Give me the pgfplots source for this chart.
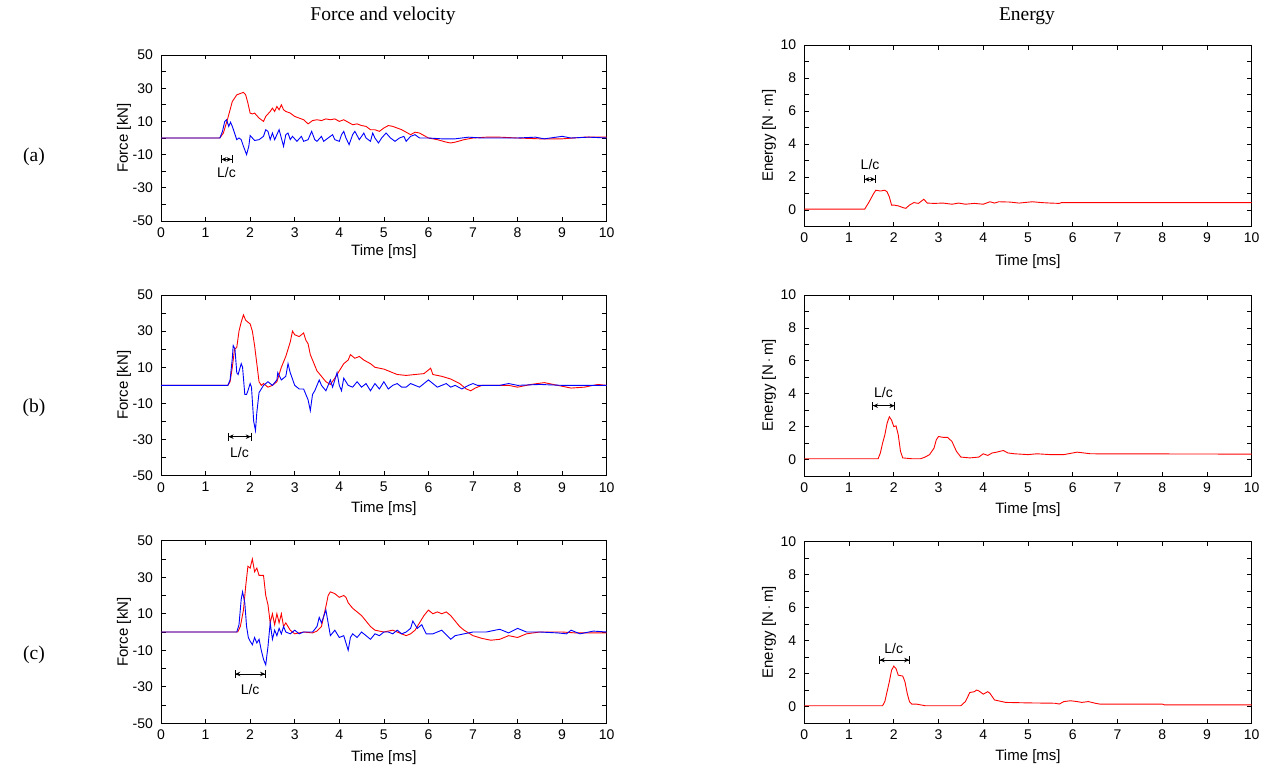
\documentclass[border=0pt]{standalone}
\usepackage{pgfplots}
\pgfplotsset{compat=1.18}
\usepackage{fontspec}
\setmainfont{Liberation Serif}
\setsansfont{Liberation Sans}
\usetikzlibrary{arrows.meta}

\pgfplotsset{
  base/.style={
    scale only axis,
    xmin=0, xmax=10,
    xtick={0,1,...,10},
    xticklabels={0,1,2,3,4,5,6,7,8,9,10},
    tick align=inside,
    tick pos=both,
    major tick length=4.5pt,
    minor tick length=4.5pt,
    every tick/.style={black, line width=0.7pt},
    axis line style={black, line width=0.8pt},
    tick label style={font=\sffamily\fontsize{14}{14}\selectfont, text=black},
    label style={font=\sffamily\fontsize{15}{15}\selectfont},
    xticklabel style={yshift=-3pt},
    yticklabel style={xshift=-4.5pt},
    xlabel={Time [ms]},
    every axis plot/.append style={line width=0.9pt, no marks},
  },
  force/.style={base,
    width=445.7pt,
    ymin=-50, ymax=50,
    ytick={-50,-30,-10,10,30,50},
    yticklabels={-50,-30,-10,10,30,50},
    minor ytick={-40,-20,0,20,40},
    ylabel={Force [kN]},
    ylabel style={at={(axis description cs:-0.083,0.5)}, anchor=center, rotate=0},
  },
  energy/.style={base,
    width=447.4pt,
    ymin=-1, ymax=10,
    ytick={0,2,4,6,8,10},
    yticklabels={0,2,4,6,8,10},
    minor ytick={1,3,5,7,9},
    ylabel={Energy [N\,$\cdot$\,m]},
    ylabel style={at={(axis description cs:-0.079,0.5)}, anchor=center, rotate=0},
  },
}
\tikzset{lc/.style={{Bar[width=8pt]Stealth[length=5pt,width=4.5pt]}-{Stealth[length=5pt,width=4.5pt]Bar[width=8pt]}, line width=0.7pt, black},
         lct/.style={font=\sffamily\fontsize{14}{14}\selectfont}}

\begin{document}
\begin{tikzpicture}
\useasboundingbox (0pt,0pt) rectangle (1264pt,-773pt);

\node[font=\fontsize{19.5}{19.5}\selectfont] at (383pt,-16pt) {Force and velocity};
\node[font=\fontsize{19.5}{19.5}\selectfont] at (1027pt,-16pt) {Energy};
\node[font=\fontsize{19.5}{19.5}\selectfont] at (34pt,-157pt) {(a)};
\node[font=\fontsize{19.5}{19.5}\selectfont] at (34pt,-408pt) {(b)};
\node[font=\fontsize{19.5}{19.5}\selectfont] at (34pt,-655pt) {(c)};

% ---------- (a) force ----------
\begin{axis}[force, at={(161pt,-221pt)}, anchor=south west, height=166pt,
  xlabel style={at={(axis description cs:0.5,-0.187)}, anchor=center}]
\addplot[red] coordinates {
(0,0) (1.32,0) (1.4,3) (1.5,12) (1.6,22) (1.7,26) (1.8,27) (1.85,27.5) (1.9,26) (1.95,21)
(2.0,15) (2.05,14.5) (2.1,15) (2.2,12) (2.3,10) (2.35,13) (2.45,16) (2.5,18) (2.55,16) (2.6,19)
(2.65,17) (2.7,20) (2.75,17) (2.8,16) (2.9,15) (3.0,13) (3.1,12) (3.2,11) (3.3,8.5) (3.4,10.5)
(3.5,11) (3.6,10.5) (3.7,11.5) (3.8,11) (3.9,11.5) (4.0,10) (4.1,11) (4.2,9.5) (4.3,8) (4.4,8.5)
(4.5,7.5) (4.6,7) (4.7,5) (4.8,5) (4.9,4) (5.0,6) (5.1,7.5) (5.2,7) (5.3,6) (5.4,5)
(5.5,3.5) (5.6,2) (5.7,3.5) (5.8,3) (5.9,1.5) (6.0,0) (6.2,-1) (6.4,-2.5) (6.5,-3) (6.6,-2.5)
(6.8,-1) (7.0,0) (7.3,0.5) (7.6,0.5) (8.0,0) (8.5,-0.5) (9.0,-0.5) (9.5,0.5) (10,0.5)
};
\addplot[blue] coordinates {
(0,0) (1.32,0) (1.38,4) (1.43,10) (1.47,11) (1.52,7) (1.56,9.5) (1.6,7) (1.65,3) (1.7,-1)
(1.75,0) (1.8,-1) (1.85,-5) (1.92,-10) (1.97,-5) (2.0,1.5) (2.05,0) (2.1,-1.5) (2.2,-1) (2.3,1)
(2.35,5) (2.4,4) (2.45,-1) (2.5,3) (2.55,-1) (2.65,5) (2.7,0) (2.75,-5) (2.8,2) (2.85,3)
(2.9,-1) (2.95,1) (3.05,-2) (3.15,1) (3.2,-2) (3.3,-1) (3.38,4) (3.45,-1) (3.5,-2) (3.6,1)
(3.65,-2) (3.75,0) (3.85,2) (3.9,-1) (4.0,-2) (4.05,2) (4.1,4) (4.15,0) (4.22,-4) (4.3,2)
(4.35,4) (4.45,-1) (4.55,3) (4.6,0) (4.7,-2) (4.75,3) (4.8,0) (4.88,-3) (4.95,0) (5.05,3)
(5.15,0) (5.25,-2) (5.35,0) (5.45,1) (5.5,-2) (5.6,1) (5.7,2) (5.8,0) (6.0,0) (6.3,-0.5)
(6.6,-0.5) (6.9,0.5) (7.2,0) (7.5,0) (8.0,0) (8.4,0.5) (8.6,-0.5) (9.0,1) (9.2,0) (9.6,0.5) (10,0)
};
\draw[lc] (axis cs:1.34,-12.9) -- (axis cs:1.60,-12.9);
\node[lct] at (axis cs:1.47,-21) {L/c};
\end{axis}

% ---------- (b) force ----------
\begin{axis}[force, at={(161pt,-475.7pt)}, anchor=south west, height=180.7pt,
  xlabel style={at={(axis description cs:0.5,-0.183)}, anchor=center}]
\addplot[red] coordinates {
(0,0) (1.5,0) (1.55,2) (1.6,10) (1.65,20) (1.7,21) (1.75,30) (1.8,35) (1.85,39) (1.9,36)
(1.95,35) (2.0,34) (2.05,30) (2.1,22) (2.15,12) (2.2,2) (2.25,0) (2.3,1) (2.4,-1) (2.5,0)
(2.6,2) (2.7,10) (2.8,16) (2.9,24) (2.95,30) (3.0,28) (3.1,27) (3.2,29) (3.25,25) (3.3,23)
(3.35,17) (3.4,14) (3.5,8) (3.6,5) (3.7,2) (3.8,0.5) (3.9,4) (4.0,8) (4.1,12) (4.2,14)
(4.25,17) (4.35,15) (4.45,16) (4.55,14) (4.7,12) (4.8,10) (5.0,9) (5.1,8) (5.3,6) (5.5,5.5)
(5.7,6) (5.9,6.5) (6.05,9.5) (6.1,6) (6.3,5) (6.5,3.5) (6.7,1) (6.85,-2) (6.95,-3) (7.05,-1.5)
(7.2,0) (7.5,0) (7.8,0) (8.0,-1) (8.3,0.5) (8.6,1.5) (8.9,0) (9.2,-1.5) (9.5,-1) (9.8,0.5) (10,0)
};
\addplot[blue] coordinates {
(0,0) (1.5,0) (1.55,3) (1.6,15) (1.62,22) (1.66,20) (1.7,7) (1.73,6) (1.8,12) (1.83,10)
(1.88,-5) (1.92,-5) (1.95,-3) (2.0,1) (2.03,-1) (2.08,-20) (2.12,-25) (2.15,-15) (2.2,-4) (2.25,-2)
(2.3,0) (2.4,2) (2.5,0) (2.6,3) (2.62,7) (2.7,3) (2.8,5) (2.85,12) (2.9,7) (3.0,0)
(3.1,-2) (3.2,-2) (3.3,-8) (3.35,-14) (3.4,-5) (3.45,-3) (3.55,3) (3.6,0) (3.7,-3) (3.8,3)
(3.85,-1) (3.95,7) (4.0,0) (4.05,-3) (4.1,4) (4.2,0) (4.3,-1) (4.4,2) (4.5,-1) (4.6,1)
(4.7,-3) (4.8,1) (4.9,-2) (5.0,2) (5.1,-2) (5.2,0) (5.3,1) (5.4,-1) (5.5,-1) (5.6,1)
(5.7,0) (5.8,-1) (5.9,1) (6.0,3) (6.1,1) (6.2,-1) (6.3,0) (6.4,1) (6.5,-1) (6.6,0)
(6.75,-2) (6.9,0) (7.0,1) (7.1,0) (7.3,0) (7.6,0) (7.8,1) (8.0,0) (8.5,0.5) (9.0,0) (9.5,0) (10,0)
};
\draw[lc] (axis cs:1.50,-28.4) -- (axis cs:2.03,-28.4);
\node[lct] at (axis cs:1.76,-37) {L/c};
\end{axis}

% ---------- (c) force ----------
\begin{axis}[force, at={(161pt,-723.3pt)}, anchor=south west, height=182.6pt,
  xlabel style={at={(axis description cs:0.5,-0.186)}, anchor=center}]
\addplot[red] coordinates {
(0,0) (1.72,0) (1.78,3) (1.85,12) (1.9,25) (1.95,36) (2.0,35) (2.05,40) (2.1,33) (2.15,35)
(2.2,31) (2.3,31) (2.35,20) (2.4,15) (2.45,5) (2.5,10) (2.55,4) (2.6,10) (2.65,5) (2.7,10)
(2.75,3) (2.8,5) (2.9,1) (3.0,-1) (3.2,0) (3.4,-0.5) (3.5,0.5) (3.6,3) (3.7,14) (3.75,20)
(3.8,22) (3.9,21) (4.0,19) (4.1,20) (4.15,19) (4.2,16) (4.3,13) (4.4,11) (4.5,9) (4.6,6)
(4.7,3) (4.8,1) (5.0,0) (5.2,1) (5.4,-1) (5.5,-2) (5.6,-1) (5.7,1) (5.8,5) (5.9,9)
(6.0,12) (6.1,10) (6.2,11) (6.3,10) (6.4,11) (6.5,9) (6.6,6) (6.7,3) (6.8,1) (7.0,-2)
(7.2,-3.5) (7.4,-4.5) (7.6,-4) (7.8,-2) (8.0,-3) (8.2,-1) (8.5,0) (9.0,0) (9.3,-0.5) (9.6,-0.5) (10,-0.5)
};
\addplot[blue] coordinates {
(0,0) (1.7,0) (1.75,4) (1.8,18) (1.83,22) (1.88,16) (1.92,3) (1.96,-3) (2.0,-5) (2.05,-7)
(2.1,-3) (2.15,-6) (2.2,-4) (2.25,-10) (2.3,-15) (2.35,-18) (2.4,-8) (2.45,5) (2.5,-4) (2.55,1)
(2.6,-2) (2.65,2) (2.7,-1) (2.75,3) (2.8,0) (2.9,-1) (3.0,1) (3.1,-1) (3.2,0) (3.3,0)
(3.4,0) (3.5,3) (3.55,8) (3.6,5) (3.7,12) (3.75,5) (3.8,-2) (3.9,1) (4.0,-3) (4.1,-2)
(4.2,-10) (4.25,-3) (4.3,-1) (4.4,-3) (4.5,0) (4.6,-2) (4.7,-4) (4.8,-1) (4.9,-2) (5.0,0)
(5.1,0) (5.2,-1) (5.3,1) (5.4,-1) (5.5,0) (5.6,2) (5.65,6) (5.75,2) (5.85,4) (5.95,-1)
(6.1,-1) (6.3,1) (6.5,-4) (6.6,-2) (6.8,-1) (7.0,0) (7.3,0) (7.6,1.5) (7.8,-0.5) (8.0,2)
(8.2,0) (8.5,0) (8.9,-0.5) (9.1,-1) (9.2,1) (9.4,-1) (9.7,0.5) (10,0)
};
\draw[lc] (axis cs:1.65,-23) -- (axis cs:2.35,-23);
\node[lct] at (axis cs:2.0,-31.5) {L/c};
\end{axis}

% ---------- (a) energy ----------
\begin{axis}[energy, at={(804.3pt,-226.5pt)}, anchor=south west, height=181.5pt,
  xlabel style={at={(axis description cs:0.5,-0.196)}, anchor=center}]
\addplot[red] coordinates {
(0,0.05) (1.35,0.05) (1.45,0.5) (1.55,1.0) (1.6,1.2) (1.7,1.15) (1.8,1.2) (1.85,1.1) (1.9,0.8) (1.95,0.3)
(2.0,0.3) (2.1,0.25) (2.2,0.15) (2.27,0.1) (2.35,0.3) (2.45,0.45) (2.55,0.4) (2.6,0.5) (2.67,0.65) (2.75,0.42)
(2.9,0.4) (3.1,0.42) (3.3,0.35) (3.45,0.42) (3.6,0.35) (3.8,0.4) (4.0,0.35) (4.15,0.5) (4.25,0.42) (4.35,0.5)
(4.6,0.48) (4.8,0.42) (5.1,0.5) (5.3,0.45) (5.5,0.42) (5.7,0.4) (5.75,0.45) (10,0.45)
};
\draw[lc] (axis cs:1.33,1.86) -- (axis cs:1.60,1.86);
\node[lct] at (axis cs:1.47,2.75) {L/c};
\end{axis}

% ---------- (b) energy ----------
\begin{axis}[energy, at={(804.3pt,-476pt)}, anchor=south west, height=181pt,
  xlabel style={at={(axis description cs:0.5,-0.188)}, anchor=center}]
\addplot[red] coordinates {
(0,0.05) (1.65,0.05) (1.7,0.4) (1.75,1.0) (1.8,1.5) (1.85,2.2) (1.9,2.6) (1.95,2.4) (2.0,2.0) (2.05,2.05)
(2.1,1.5) (2.15,0.5) (2.2,0.1) (2.4,0.05) (2.6,0.05) (2.7,0.15) (2.8,0.3) (2.9,0.7) (2.95,1.2) (3.0,1.4)
(3.1,1.35) (3.2,1.35) (3.3,1.1) (3.4,0.5) (3.5,0.15) (3.7,0.1) (3.9,0.15) (4.0,0.35) (4.1,0.25) (4.2,0.4)
(4.3,0.45) (4.45,0.55) (4.55,0.4) (4.7,0.35) (5.0,0.3) (5.2,0.35) (5.5,0.3) (5.8,0.3) (6.1,0.45) (6.4,0.35) (10,0.33)
};
\draw[lc] (axis cs:1.52,3.27) -- (axis cs:2.03,3.27);
\node[lct] at (axis cs:1.77,4.1) {L/c};
\end{axis}

% ---------- (c) energy ----------
\begin{axis}[energy, at={(804.3pt,-723pt)}, anchor=south west, height=181.3pt,
  xlabel style={at={(axis description cs:0.5,-0.188)}, anchor=center}]
\addplot[red] coordinates {
(0,0.05) (1.75,0.05) (1.8,0.3) (1.9,1.5) (1.95,2.2) (2.0,2.45) (2.05,2.3) (2.1,1.9) (2.2,1.85) (2.25,1.5)
(2.3,0.8) (2.35,0.3) (2.4,0.15) (2.5,0.15) (2.7,0.05) (3.0,0.05) (3.5,0.05) (3.6,0.3) (3.7,0.85) (3.8,0.9)
(3.85,1.0) (3.9,0.95) (4.0,0.75) (4.1,0.9) (4.15,0.8) (4.25,0.4) (4.5,0.25) (5.0,0.22) (5.6,0.2) (5.7,0.15)
(5.8,0.3) (5.95,0.35) (6.1,0.3) (6.2,0.25) (6.35,0.3) (6.5,0.2) (6.6,0.15) (7.0,0.15) (8.0,0.15) (8.05,0.1) (10,0.1)
};
\draw[lc] (axis cs:1.67,2.82) -- (axis cs:2.36,2.82);
\node[lct] at (axis cs:2.0,3.55) {L/c};
\end{axis}
\end{tikzpicture}
\end{document}
